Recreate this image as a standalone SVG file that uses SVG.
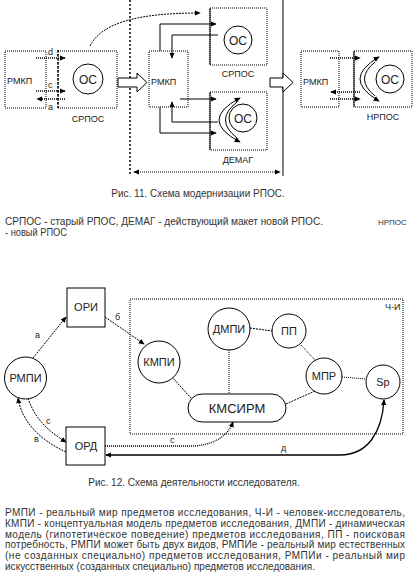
<svg xmlns="http://www.w3.org/2000/svg" width="413" height="581" viewBox="0 0 413 581">
<defs>
<marker id="ah" viewBox="0 0 8 8" refX="7" refY="4" markerWidth="6" markerHeight="6" orient="auto-start-reverse" markerUnits="userSpaceOnUse"><path d="M0,0.5 L8,4 L0,7.5 z" fill="#000"/></marker>
</defs>
<style>
text{font-family:"Liberation Sans",Arial,sans-serif;fill:#222}
.dot{fill:none;stroke:#000;stroke-width:1;stroke-dasharray:1 1}
.box{fill:#fff;stroke:#000;stroke-width:1}
.ln{fill:none;stroke:#000;stroke-width:1}
.dl{fill:none;stroke:#000;stroke-width:1;stroke-dasharray:1 1}
.ds{fill:none;stroke:#000;stroke-width:1;stroke-dasharray:2 1}
.tk{fill:none;stroke:#000;stroke-width:1.5;stroke-dasharray:2 2}
.c{fill:#fff;stroke:#000;stroke-width:1}
.hol{fill:#fff;stroke:#000;stroke-width:1}
.sm{font-size:9px}
.nd{font-size:11px;text-anchor:middle}
.os{font-size:12px;text-anchor:middle}
.cap{font-size:10px;fill:#333}
</style>
<rect width="413" height="581" fill="#fff"/>

<!-- ===== Figure 11 ===== -->
<g id="dividers">
<line class="tk" x1="130" y1="0" x2="130" y2="176"/>
<line class="ln" x1="283" y1="0" x2="283" y2="176"/>
</g>

<g id="rmkp1">
<rect class="dot" x="5" y="51" width="41" height="57"/>
<text class="sm" x="7" y="84">РМКП</text>
</g>
<g id="srpos1">
<rect class="dot" x="58" y="51" width="59" height="57"/>
<line class="tk" x1="58" y1="50" x2="58" y2="110"/>
<circle class="c" cx="88" cy="79" r="15"/>
<text class="os" x="88" y="83.5">ОС</text>
<text class="sm" x="88" y="122" text-anchor="middle">СРПОС</text>
</g>

<g id="rmkp2">
<rect class="dot" x="149" y="51" width="39" height="56"/>
<text class="sm" x="151" y="85">РМКП</text>
</g>
<g id="srpos2">
<rect class="box" x="210" y="8" width="57" height="57" style="stroke-dasharray:1 1"/>
<line class="ln" x1="210" y1="8" x2="210" y2="65"/>
<circle class="c" cx="238" cy="40" r="14"/>
<text class="os" x="238" y="44.5">ОС</text>
<text class="sm" x="238" y="77" text-anchor="middle">СРПОС</text>
</g>
<g id="demag">
<rect class="box" x="210" y="92" width="57" height="58" style="stroke-dasharray:1 1"/>
<line class="ln" x1="210" y1="92" x2="210" y2="150"/>
<path class="ln" d="M240,98 Q198,120 240,142" marker-start="url(#ah)" marker-end="url(#ah)"/>
<path class="ln" d="M237,102 Q214,120 237,138"/>
<circle class="c" cx="243" cy="118" r="14"/>
<text class="os" x="243" y="122.5">ОС</text>
<text class="sm" x="238" y="163" text-anchor="middle">ДЕМАГ</text>
</g>

<g id="rmkp3">
<rect class="dot" x="301" y="51" width="38" height="56"/>
<text class="sm" x="303" y="85">РМКП</text>
</g>
<g id="nrpos">
<rect class="dot" x="354" y="51" width="58" height="56"/>
<line class="ln" x1="354" y1="51" x2="354" y2="107"/>
<path class="ln" d="M379,57 Q341,79 379,101" marker-start="url(#ah)" marker-end="url(#ah)"/>
<path class="ln" d="M375,62 Q354,79 375,96"/>
<circle class="c" cx="390" cy="79" r="14"/>
<text class="os" x="390" y="83.5">ОС</text>
<text class="sm" x="383" y="120" text-anchor="middle">НРПОС</text>
</g>

<g id="connectors-top">
<line class="dl" x1="36" y1="58" x2="65" y2="58" marker-end="url(#ah)" style="stroke-width:1.3"/>
<line class="dl" x1="36" y1="91" x2="65" y2="91" marker-end="url(#ah)" style="stroke-width:1.3"/>
<line class="dl" x1="65" y1="99" x2="37" y2="99" marker-end="url(#ah)" style="stroke-width:1.3"/>
<text class="sm" x="48" y="55">d</text>
<text class="sm" x="48" y="88">c</text>
<text class="sm" x="48" y="110">a</text>
<path class="ds" d="M90,46 C102,22 140,13 200,13" marker-end="url(#ah)"/>
<polygon class="hol" points="118,78 137,78 137,73 147,82.5 137,92 137,87 118,87"/>
<polygon class="hol" points="270,78 283,78 283,73 293,82.5 283,92 283,87 270,87"/>
<path class="ln" d="M160,51 V24 H216" marker-end="url(#ah)"/>
<path class="ln" d="M218,35 H172 V58" marker-end="url(#ah)"/>
<line class="ln" x1="180" y1="99" x2="216" y2="99" marker-end="url(#ah)"/>
<path class="ln" d="M218,122 H172 V102" marker-end="url(#ah)"/>
<path class="ln" d="M160,107 V133 H216" marker-end="url(#ah)"/>
<line class="dl" x1="134" y1="172" x2="280" y2="172" marker-start="url(#ah)" marker-end="url(#ah)"/>
<line class="dl" x1="330" y1="58" x2="360" y2="58" marker-end="url(#ah)" style="stroke-width:1.3"/>
<line class="dl" x1="360" y1="92" x2="331" y2="92" marker-end="url(#ah)" style="stroke-width:1.3"/>
<line class="dl" x1="330" y1="99" x2="360" y2="99" marker-end="url(#ah)" style="stroke-width:1.3"/>
</g>

<text class="cap" x="198" y="196.5" text-anchor="middle">Рис. 11. Схема модернизации РПОС.</text>
<text class="cap" x="5" y="224.5" textLength="318" lengthAdjust="spacingAndGlyphs">СРПОС - старый РПОС, ДЕМАГ - действующий макет новой РПОС.</text>
<text class="cap" x="378" y="224.5" style="font-size:8px">НРПОС</text>
<text class="cap" x="5" y="235.5" textLength="62" lengthAdjust="spacingAndGlyphs">- новый РПОС</text>

<!-- ===== Figure 12 ===== -->
<g id="ch">
<rect class="dot" x="130" y="299" width="273" height="135"/>
<text class="sm" x="385" y="310">Ч-И</text>
</g>
<g id="ori">
<rect class="box" x="67" y="288" width="38" height="39"/>
<text class="nd" x="86" y="311">ОРИ</text>
</g>
<g id="ord">
<rect class="box" x="66" y="427" width="39" height="38"/>
<text class="nd" x="86" y="450">ОРД</text>
</g>

<g id="connectors-bottom">
<line class="ds" x1="172" y1="377" x2="191" y2="398"/>
<line class="dl" x1="229" y1="350" x2="229" y2="394"/>
<line class="ds" x1="250" y1="328" x2="272" y2="331"/>
<line class="dl" x1="301" y1="345" x2="315" y2="360"/>
<line class="dl" x1="342" y1="377" x2="366" y2="379"/>
<line class="ds" x1="286" y1="404" x2="315" y2="391"/>
<line class="ds" x1="33" y1="358" x2="66" y2="317" marker-end="url(#ah)"/>
<text class="sm" x="35" y="338">а</text>
<line class="ds" x1="105" y1="317" x2="144" y2="344" marker-end="url(#ah)"/>
<text class="sm" x="115" y="320">б</text>
<path class="ds" d="M66,452 C40,440 22,422 18,398" marker-end="url(#ah)"/>
<text class="sm" x="34" y="442">в</text>
<path class="ds" d="M28,398 C35,420 50,432 66,442" marker-end="url(#ah)"/>
<text class="sm" x="46" y="424">с</text>
<path class="dl" d="M105,446 H195 C215,444 228,436 233,422" marker-end="url(#ah)" style="stroke-width:1.3"/>
<text class="sm" x="170" y="443">с</text>
<path class="ln" d="M106,455 H340 C368,455 382,432 384,400" marker-start="url(#ah)" marker-end="url(#ah)" style="stroke-width:1.3"/>
<text class="sm" x="281" y="451">д</text>
</g>

<g id="rmpi">
<circle class="c" cx="25.5" cy="378" r="21"/>
<text class="nd" x="25.5" y="382">РМПИ</text>
</g>
<g id="kmpi">
<circle class="c" cx="159" cy="362" r="21"/>
<text class="nd" x="159" y="366">КМПИ</text>
</g>
<g id="dmpi">
<circle class="c" cx="229" cy="329" r="21"/>
<text class="nd" x="229" y="333">ДМПИ</text>
</g>
<g id="pp">
<circle class="c" cx="289" cy="331" r="17"/>
<text class="nd" x="289" y="335">ПП</text>
</g>
<g id="mpr">
<circle class="c" cx="324" cy="376" r="18"/>
<text class="nd" x="324" y="380">МПР</text>
</g>
<g id="sp">
<circle class="c" cx="383" cy="382" r="17"/>
<text class="nd" x="383" y="386">Sp</text>
</g>
<g id="kmsirm">
<rect class="c" x="188" y="394" width="98" height="28" rx="14"/>
<text x="237" y="413" font-size="13" text-anchor="middle">КМСИРМ</text>
</g>

<text class="cap" x="194" y="486" text-anchor="middle">Рис. 12. Схема деятельности исследователя.</text>
<g id="legend">
<text class="cap" x="5" y="516" textLength="400" lengthAdjust="spacing">РМПИ - реальный мир предметов исследования, Ч-И - человек-исследователь,</text>
<text class="cap" x="5" y="527" textLength="400" lengthAdjust="spacing">КМПИ - концептуальная модель предметов исследования, ДМПИ - динамическая</text>
<text class="cap" x="5" y="537.5" textLength="400" lengthAdjust="spacing">модель (гипотетическое поведение) предметов исследования, ПП - поисковая</text>
<text class="cap" x="5" y="548" textLength="400" lengthAdjust="spacing">потребность, РМПИ может быть двух видов, РМПИе - реальный мир естественных</text>
<text class="cap" x="5" y="559" textLength="400" lengthAdjust="spacing">(не созданных специально) предметов исследования, РМПИи - реальный мир</text>
<text class="cap" x="5" y="569.5" textLength="310" lengthAdjust="spacing">искусственных (созданных специально) предметов исследования.</text>
</g>
</svg>
